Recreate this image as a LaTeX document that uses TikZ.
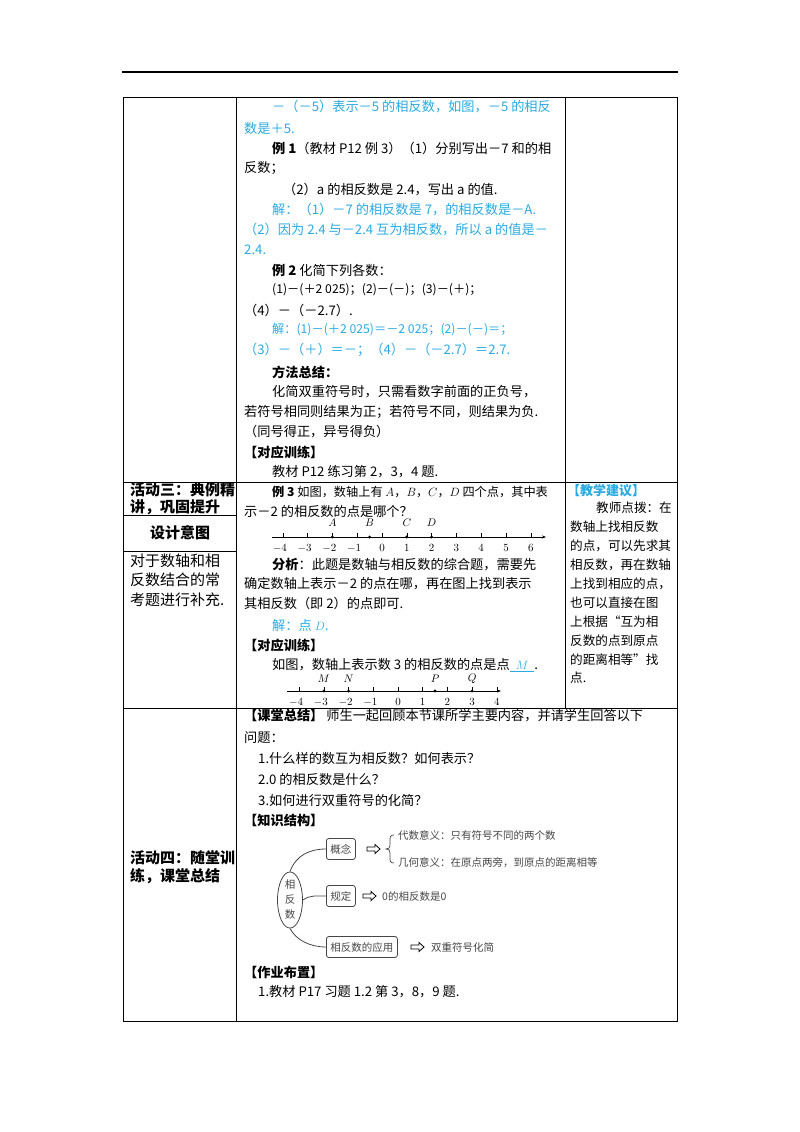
\documentclass[tikz,border=0pt]{standalone}
\usepackage{fontspec}
\setmainfont{Noto Sans CJK SC}
\usetikzlibrary{decorations.pathreplacing,arrows.meta,shapes.geometric}
\definecolor{cyanT}{RGB}{41,170,226}
\definecolor{grayT}{RGB}{70,70,70}
\tikzset{
  tl/.style={anchor=west,inner sep=0pt,font=\fontsize{13.2}{15}\selectfont},
  tls/.style={anchor=west,inner sep=0pt,font=\fontsize{12.2}{15}\selectfont},
  tc/.style={tl,text=cyanT},
  tcs/.style={tls,text=cyanT},
  sm/.style={anchor=west,inner sep=0pt,font=\fontsize{13}{15}\selectfont},
  lc/.style={anchor=west,inner sep=0pt,font=\fontsize{15}{15}\selectfont},
  rc/.style={anchor=west,inner sep=0pt,font=\fontsize{12.6}{15}\selectfont},
  num/.style={inner sep=0pt,font=\fontsize{10.5}{12}\selectfont},
  ptl/.style={inner sep=0pt,font=\fontsize{11}{12}\selectfont},
  dia/.style={inner sep=0pt,text=grayT,font=\fontsize{10.5}{12}\selectfont},
  dbox/.style={draw=grayT,rounded corners=2.5pt,line width=0.8pt,minimum height=21pt,inner xsep=4pt,text=grayT,font=\fontsize{10.5}{12}\selectfont},
  rule/.style={line width=0.9pt},
  link/.style={line width=0.8pt,draw=grayT},
  harrow/.style={draw=black,line width=0.8pt,fill=white}
}
\newcommand{\va}{\textit{a}}
\begin{document}
\begin{tikzpicture}[x=1pt,y=-1pt]
\useasboundingbox (0,0) rectangle (800,1132);
% header line and table
\draw[line width=1.2pt] (122,72) -- (678,72);
\draw[rule] (123,97) rectangle (677,1021);
\draw[rule] (236,97) -- (236,1021);
\draw[rule] (565,97) -- (565,708);
\draw[rule] (123,482) -- (677,482);
\draw[rule] (123,708) -- (677,708);
\draw[rule] (123,515) -- (236,515);
\draw[rule] (123,551) -- (236,551);

% row 1
\node[tc] (r1a) at (272,107) {－（－5）表示－5 的相反数，如图，－5 的相反};
\node[tc] (r1b) at (244,128) {数是＋5.};
\node[tl] (r1c) at (272,148) {\textbf{例 1}（教材 P12 例 3）（1）分别写出－7 和的相};
\node[tl] (r1d) at (244,168) {反数；};
\node[tl] (r1e) at (283,190) {（2）$\mathit{a}$ 的相反数是 2.4，写出 $\mathit{a}$ 的值.};
\node[tc] (r1f) at (272,210) {解：（1）－7 的相反数是 7，的相反数是－A.};
\node[tc] (r1g) at (244,230) {（2）因为 2.4 与－2.4 互为相反数，所以 $\mathit{a}$ 的值是－};
\node[tc] (r1h) at (244,250) {2.4.};
\node[tl] (r1i) at (272,270) {\textbf{例 2} 化简下列各数：};
\node[tls] (r1j) at (272,290) {(1)－(＋2 025)；(2)－(－)；(3)－(＋)；};
\node[tl] (r1k) at (244,310) {（4）－（－2.7）.};
\node[tcs] (r1l) at (272,330) {解：(1)－(＋2 025)＝－2 025；(2)－(－)＝；};
\node[tc] (r1m) at (244,350) {（3）－（＋）＝－；（4）－（－2.7）＝2.7.};
\node[tl] (r1n) at (272,372) {\textbf{方法总结：}};
\node[tl] (r1o) at (272,392) {化简双重符号时，只需看数字前面的正负号，};
\node[tl] (r1p) at (244,412) {若符号相同则结果为正；若符号不同，则结果为负.};
\node[tl] (r1q) at (244,432) {（同号得正，异号得负）};
\node[tl] (r1r) at (244,452) {\textbf{【对应训练】}};
\node[tl] (r1s) at (272,472) {教材 P12 练习第 2，3，4 题.};

% row 2 left
\node[lc] (l2a) at (130,490) {\textbf{活动三：典例精}};
\node[lc] (l2b) at (130,507) {\textbf{讲，巩固提升}};
\node[inner sep=0pt,font=\fontsize{15}{15}\selectfont] (l2c) at (180,533) {\textbf{设计意图}};
\node[lc] (l2d) at (130,561) {对于数轴和相};
\node[lc] (l2e) at (130,580) {反数结合的常};
\node[lc] (l2f) at (130,600) {考题进行补充.};

% row 2 middle
\node[tls] (m2a) at (272,492) {\textbf{例 3} 如图，数轴上有 $A$，$B$，$C$，$D$ 四个点，其中表};
\node[tl] (m2b) at (244,511) {示－2 的相反数的点是哪个？};
\coordinate (ax1s) at (272,537);
\coordinate (ax1e) at (546,537);
\draw[line width=0.7pt,-{Stealth[length=4pt,width=3pt]}] (ax1s) -- (ax1e);
\foreach \k in {-4,...,6}{
  \draw[line width=0.6pt] (382+24.8*\k,537) -- (382+24.8*\k,533);
  \pgfmathtruncatemacro{\kk}{\k}
  \ifnum\kk<0 \node[num] at (382+24.8*\k-3,548) {$-\the\numexpr-\kk\relax$};
  \else \node[num] at (382+24.8*\k,548) {$\kk$};\fi
}
\foreach \v/\l in {-2/A,-0.5/B,1/C,2/D}{
  \fill (382+24.8*\v,537) circle (1.6pt);
  \node[ptl] at (382+24.8*\v,523) {$\l$};
}
\node[tl] (m2c) at (272,565) {\textbf{分析}：此题是数轴与相反数的综合题，需要先};
\node[tl] (m2d) at (244,584) {确定数轴上表示－2 的点在哪，再在图上找到表示};
\node[tl] (m2e) at (244,603) {其相反数（即 2）的点即可.};
\node[tc] (m2f) at (272,625) {解：点 $D$.};
\node[tl] (m2g) at (244,645) {\textbf{【对应训练】}};
\node[tl] (m2h) at (272,665) {如图，数轴上表示数 3 的相反数的点是点\textcolor{cyanT}{\underline{\hspace{6pt}$M$\hspace{6pt}}}.};
\draw[line width=0.7pt,-{Stealth[length=4pt,width=3pt]}] (287,691) -- (501,691);
\foreach \k in {-4,...,4}{
  \draw[line width=0.6pt] (398+24.7*\k,691) -- (398+24.7*\k,687);
  \pgfmathtruncatemacro{\kk}{\k}
  \ifnum\kk<0 \node[num] at (398+24.7*\k-3,702) {$-\the\numexpr-\kk\relax$};
  \else \node[num] at (398+24.7*\k,702) {$\kk$};\fi
}
\foreach \v/\l in {-3/M,-2/N,1.5/P,3/Q}{
  \fill (398+24.7*\v,691) circle (1.6pt);
  \node[ptl] at (398+24.7*\v,679) {$\l$};
}

% row 2 right
\node[anchor=west,inner sep=0pt,text=cyanT,font=\fontsize{13}{15}\selectfont] (rt) at (567,491) {\textbf{【教学建议】}};
\node[rc] at (596,508) {教师点拨：在};
\node[rc] at (570,527) {数轴上找相反数};
\node[rc] at (570,546) {的点，可以先求其};
\node[rc] at (570,565) {相反数，再在数轴};
\node[rc] at (570,584) {上找到相应的点，};
\node[rc] at (570,603) {也可以直接在图};
\node[rc] at (570,622) {上根据“互为相};
\node[rc] at (570,641) {反数的点到原点};
\node[rc] at (570,660) {的距离相等”找};
\node[rc] at (570,678) {点.};

% row 3
\node[lc] (l3a) at (130,858) {\textbf{活动四：随堂训}};
\node[lc] (l3b) at (130,876) {\textbf{练，课堂总结}};
\node[tl] (s1) at (244,716) {\textbf{【课堂总结】} 师生一起回顾本节课所学主要内容，并请学生回答以下};
\node[tl] (s2) at (244,738) {问题：};
\node[tl] (s3) at (258,758) {1.什么样的数互为相反数？如何表示？};
\node[tl] (s4) at (258,779) {2.0 的相反数是什么？};
\node[tl] (s5) at (258,800) {3.如何进行双重符号的化简？};
\node[tl] (s6) at (244,820) {\textbf{【知识结构】}};

% knowledge diagram
\node[draw=grayT,line width=0.8pt,ellipse,minimum width=25pt,minimum height=55pt,inner sep=0pt,text=grayT,align=center,font=\fontsize{10.5}{15}\selectfont] (ell) at (290,900) {相\\反\\数};
\node[dbox,anchor=west] (b1) at (326,849) {概念};
\node[dbox,anchor=west] (b2) at (326,896) {规定};
\node[dbox,anchor=west] (b3) at (326,947) {相反数的应用};
\draw[link] (ell.north) .. controls (296,855) and (310,849) .. (b1.west);
\draw[link] (ell.east) .. controls (310,895) and (316,896) .. (b2.west);
\draw[link] (ell.south) .. controls (296,940) and (310,947) .. (b3.west);
\foreach \x/\y in {367/849,363/896,411/947}{
  \draw[harrow] (\x,\y-2) -- (\x+8,\y-2) -- (\x+8,\y-4.5) -- (\x+13,\y) -- (\x+8,\y+4.5) -- (\x+8,\y+2) -- (\x,\y+2) -- cycle;
}
\draw[line width=0.7pt,grayT] (394,835) .. controls (390,835) and (390,837) .. (390,841) -- (390,845) .. controls (390,848) and (389,849) .. (386,849) .. controls (389,849) and (390,850) .. (390,853) -- (390,857) .. controls (390,861) and (390,863) .. (394,863);
\node[dia,anchor=west] (t1) at (398,835) {代数意义：只有符号不同的两个数};
\node[dia,anchor=west] (t2) at (398,863) {几何意义：在原点两旁，到原点的距离相等};
\node[dia,anchor=west] (t3) at (382,896) {0的相反数是0};
\node[dia,anchor=west] (t4) at (431,947) {双重符号化简};

\node[tl] (h1) at (244,972) {\textbf{【作业布置】}};
\node[tl] (h2) at (258,992) {1.教材 P17 习题 1.2 第 3，8，9 题.};
\end{tikzpicture}
\end{document}
